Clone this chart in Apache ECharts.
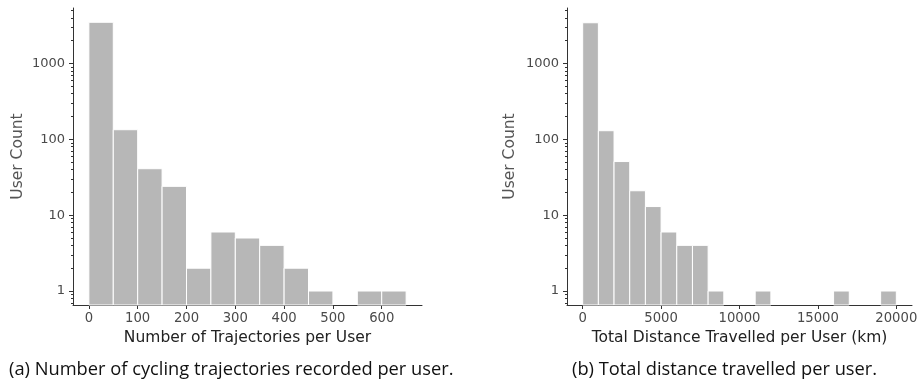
<!DOCTYPE html>
<html>
<head>
<meta charset="utf-8">
<style>html,body{margin:0;padding:0;background:#fff;}#c{width:921px;height:387px;}</style>
<script src="https://cdn.jsdelivr.net/npm/echarts@6/dist/echarts.min.js"></script>
</head>
<body>
<div id="c"></div>
<script>
// Left histogram: number of trajectories per user (bin edges and counts)
const trajBinStart = [0, 50, 100, 150, 200, 250, 300, 350, 400, 450, 500, 550, 600];
const trajBinEnd   = [50, 100, 150, 200, 250, 300, 350, 400, 450, 500, 550, 600, 650];
const trajCounts   = [3500, 134, 41, 24, 2, 6, 5, 4, 2, 1, 0, 1, 1];
// Right histogram: total distance travelled per user (km)
const distBinStart = [0, 1000, 2000, 3000, 4000, 5000, 6000, 7000, 8000, 9000, 10000, 11000, 12000, 13000, 14000, 15000, 16000, 17000, 18000, 19000];
const distBinEnd   = [1000, 2000, 3000, 4000, 5000, 6000, 7000, 8000, 9000, 10000, 11000, 12000, 13000, 14000, 15000, 16000, 17000, 18000, 19000, 20000];
const distCounts   = [3450, 130, 51, 21, 13, 6, 4, 4, 1, 0, 0, 1, 0, 0, 0, 0, 1, 0, 0, 1];
// Tick labels
const trajTicks = [0, 100, 200, 300, 400, 500, 600];
const distTicks = [0, 5000, 10000, 15000, 20000];
const yMajorTicks = [1, 10, 100, 1000];
const yMinorTicks = [0.7, 0.8, 0.9, 2, 3, 4, 5, 6, 7, 8, 9, 20, 30, 40, 50, 60, 70, 80, 90, 200, 300, 400, 500, 600, 700, 800, 900, 2000, 3000, 4000, 5000];
// Texts
const leftXName = 'Number of Trajectories per User';
const rightXName = 'Total Distance Travelled per User (km)';
const yName = 'User Count';
const captionA = '(a) Number of cycling trajectories recorded per user.';
const captionB = '(b) Total distance travelled per user.';

const Y_MIN = 0.654, Y_MAX = 5400;
const AX = '#333';
const TICK_TXT = '#4a4a4a';
const FONT = 'DejaVu Sans';

function makeData(starts, ends, counts) {
  const out = [];
  for (let i = 0; i < counts.length; i++) {
    if (counts[i] > 0) out.push([starts[i], ends[i], counts[i]]);
  }
  return out;
}
function renderItem(params, api) {
  const p0 = api.coord([api.value(0), api.value(2)]);
  const p1 = api.coord([api.value(1), Y_MIN]);
  return {
    type: 'rect',
    shape: { x: p0[0], y: p0[1], width: p1[0] - p0[0], height: p1[1] - p0[1] },
    style: { fill: '#b7b7b7', stroke: '#ffffff', lineWidth: 1 }
  };
}
function xAxis(gi, min, max, ticks, name) {
  return {
    type: 'value', gridIndex: gi, min: min, max: max, position: 'bottom',
    name: name, nameLocation: 'middle', nameGap: 21,
    nameTextStyle: { fontFamily: FONT, fontSize: 15.5, color: '#222' },
    axisLine: { show: true, onZero: false, lineStyle: { color: AX, width: 1 } },
    axisTick: { show: true, length: 4, lineStyle: { color: AX }, customValues: ticks },
    axisLabel: { show: true, margin: 7, fontFamily: FONT, fontSize: 13.2, color: TICK_TXT, customValues: ticks, formatter: v => String(v) },
    splitLine: { show: false }
  };
}
function yAxisMajor(gi, gap) {
  return {
    type: 'log', gridIndex: gi, min: Y_MIN, max: Y_MAX, logBase: 10, position: 'left',
    name: yName, nameLocation: 'middle', nameGap: gap, nameRotate: 90,
    nameTextStyle: { fontFamily: FONT, fontSize: 15.5, color: '#555' },
    axisLine: { show: true, onZero: false, lineStyle: { color: AX, width: 1 } },
    axisTick: { show: true, length: 4, lineStyle: { color: AX }, customValues: yMajorTicks },
    axisLabel: { show: true, margin: 8, fontFamily: FONT, fontSize: 13, color: TICK_TXT, customValues: yMajorTicks, formatter: v => String(Math.round(v)) },
    splitLine: { show: false }
  };
}
function yAxisMinor(gi) {
  return {
    type: 'log', gridIndex: gi, min: Y_MIN, max: Y_MAX, logBase: 10, position: 'left', offset: 0,
    axisLine: { show: false, onZero: false },
    axisTick: { show: true, length: 2, lineStyle: { color: AX }, customValues: yMinorTicks },
    axisLabel: { show: false },
    splitLine: { show: false }
  };
}

const chart = echarts.init(document.getElementById('c'), null, { renderer: 'canvas' });
const capStyle = { fontFamily: 'Open Sans', fontSize: 18.3, fontWeight: 'normal', color: '#111' };
chart.setOption({
  animation: false,
  backgroundColor: '#fff',
  title: [
    { text: captionA, left: 9, top: 361, textStyle: capStyle, padding: 0 },
    { text: captionB, left: 572, top: 361, textStyle: capStyle, padding: 0 }
  ],
  grid: [
    { left: 73, top: 8, width: 349, height: 297 },
    { left: 567, top: 8, width: 345, height: 297 }
  ],
  xAxis: [
    xAxis(0, -32.5, 682.5, trajTicks, leftXName),
    xAxis(1, -1000, 21000, distTicks, rightXName)
  ],
  yAxis: [
    yAxisMajor(0, 47), yAxisMinor(0),
    yAxisMajor(1, 49), yAxisMinor(1)
  ],
  series: [
    { type: 'custom', xAxisIndex: 0, yAxisIndex: 0, renderItem: renderItem, encode: { x: [0, 1], y: 2 }, data: makeData(trajBinStart, trajBinEnd, trajCounts) },
    { type: 'custom', xAxisIndex: 1, yAxisIndex: 2, renderItem: renderItem, encode: { x: [0, 1], y: 2 }, data: makeData(distBinStart, distBinEnd, distCounts) }
  ]
});
</script>
</body>
</html>
